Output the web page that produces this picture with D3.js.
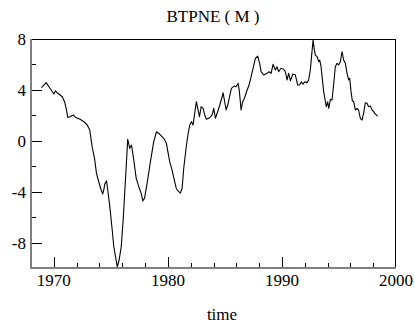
<!DOCTYPE html>
<html>
<head>
<meta charset="utf-8">
<script src="https://cdn.jsdelivr.net/npm/d3@7"></script>
<style>
  html, body { margin: 0; padding: 0; background: #fff; }
  svg { display: block; }
</style>
</head>
<body>
<svg id="chart" width="415" height="326"></svg>
<script>
// ---- data ----
const title = "BTPNE ( M )";
const xLabel = "time";
const xTickValues = [1970, 1980, 1990, 2000];
const xMinorTicks = [1972, 1974, 1976, 1978, 1982, 1984, 1986, 1988, 1992, 1994, 1996, 1998];
const yTickValues = [-8, -4, 0, 4, 8];
const yMinorTicks = [-6, -2, 2, 6];

const times = [
  1968.92, 1969.33, 1969.71, 1970.00, 1970.15, 1970.30, 1970.44, 1970.74, 1970.94, 1971.11,
  1971.23, 1971.46, 1971.70, 1971.86, 1971.99, 1972.34, 1972.63, 1972.93, 1973.15, 1973.36,
  1973.57, 1973.74, 1973.94, 1974.15, 1974.29, 1974.38, 1974.47, 1974.62, 1974.73, 1974.91,
  1975.12, 1975.26, 1975.41, 1975.56, 1975.73, 1975.91, 1976.08, 1976.28, 1976.48, 1976.66,
  1976.81, 1977.01, 1977.22, 1977.45, 1977.66, 1977.80, 1977.95, 1978.18, 1978.47, 1978.76,
  1979.00, 1979.29, 1979.64, 1979.87, 1980.16, 1980.37, 1980.58, 1980.75, 1980.95, 1981.10,
  1981.25, 1981.39, 1981.63, 1981.78, 1981.92, 1982.07, 1982.21, 1982.35, 1982.50, 1982.62,
  1982.77, 1982.92, 1983.09, 1983.23, 1983.38, 1983.67, 1983.88, 1984.02, 1984.17, 1984.32,
  1984.55, 1984.76, 1984.84, 1984.98, 1985.11, 1985.25, 1985.40, 1985.57, 1985.83, 1985.98,
  1986.16, 1986.27, 1986.42, 1986.56, 1986.71, 1986.95, 1987.12, 1987.30, 1987.47, 1987.67,
  1987.87, 1988.05, 1988.17, 1988.40, 1988.70, 1988.87, 1989.05, 1989.22, 1989.43, 1989.57,
  1989.71, 1989.92, 1990.15, 1990.30, 1990.45, 1990.59, 1990.74, 1990.96, 1991.18, 1991.38,
  1991.55, 1991.70, 1991.85, 1991.99, 1992.20, 1992.34, 1992.49, 1992.58, 1992.73, 1992.84,
  1992.93, 1993.08, 1993.22, 1993.31, 1993.43, 1993.52, 1993.66, 1993.81, 1993.89, 1994.01,
  1994.10, 1994.25, 1994.39, 1994.53, 1994.68, 1994.83, 1994.97, 1995.12, 1995.27, 1995.41,
  1995.56, 1995.71, 1995.85, 1995.94, 1996.06, 1996.17, 1996.29, 1996.44, 1996.58, 1996.72,
  1996.87, 1997.02, 1997.16, 1997.31, 1997.46, 1997.60, 1997.75, 1997.90, 1998.04, 1998.19,
  1998.39
];
const values = [
  4.17, 4.57, 4.07, 3.68, 3.93, 3.76, 3.68, 3.46, 3.07, 2.42,
  1.83, 1.91, 2.03, 1.87, 1.81, 1.67, 1.50, 1.24, 0.85, -0.47,
  -1.38, -2.56, -3.22, -3.87, -4.18, -3.87, -3.40, -3.14, -3.87, -5.18,
  -7.01, -8.33, -9.11, -9.90, -9.37, -8.33, -6.23, -3.08, 0.12, -0.59,
  -0.33, -1.51, -2.93, -3.61, -4.13, -4.73, -4.52, -3.34, -1.64, -0.07,
  0.71, 0.51, 0.19, -0.20, -1.64, -2.30, -3.16, -3.79, -4.00, -4.11,
  -3.71, -2.16, -0.33, 0.59, 1.24, 1.50, 1.24, 2.16, 3.07, 2.55,
  1.89, 2.68, 2.55, 2.03, 1.69, 1.81, 2.03, 2.55, 1.77, 2.16,
  2.81, 3.46, 3.78, 3.07, 2.42, 2.81, 3.46, 4.12, 4.31, 4.25,
  4.52, 3.86, 2.42, 3.07, 3.34, 3.99, 4.38, 5.04, 5.70, 6.48,
  6.66, 6.09, 5.43, 5.17, 5.30, 5.43, 5.30, 6.01, 5.56, 5.82,
  5.43, 5.70, 5.62, 5.43, 4.78, 5.30, 4.72, 5.25, 5.17, 4.38,
  4.38, 4.64, 4.44, 4.64, 4.57, 4.78, 5.56, 6.48, 7.92, 7.14,
  6.74, 6.61, 6.22, 6.35, 5.82, 5.04, 3.86, 3.07, 2.68, 3.07,
  2.55, 3.26, 3.21, 4.38, 5.82, 6.09, 5.96, 6.22, 7.00, 6.35,
  6.09, 5.30, 4.78, 4.91, 3.86, 3.15, 3.07, 2.42, 2.55, 2.42,
  1.77, 1.63, 2.16, 2.99, 2.95, 2.68, 2.73, 2.42, 2.29, 2.10,
  1.95
];

// ---- layout ----
const FONT = "'Liberation Serif', 'DejaVu Serif', serif";
const mLeft = 31, mRight = 396, mTop = 39, mBottom = 268;
const svg = d3.select("#chart");

const x = d3.scaleLinear().domain([1968, 2000]).range([mLeft, mRight]);
const y = d3.scaleLinear().domain([-10, 8]).range([mBottom, mTop]);

// frame: top and right thin black
svg.append("line").attr("x1", mLeft).attr("x2", mRight).attr("y1", mTop + 0.5).attr("y2", mTop + 0.5)
  .attr("stroke", "#000").attr("stroke-width", 1);
svg.append("line").attr("x1", mRight - 0.5).attr("x2", mRight - 0.5).attr("y1", mTop).attr("y2", mBottom)
  .attr("stroke", "#000").attr("stroke-width", 1);

// x ticks (inside, upward)
const gx = svg.append("g");
gx.selectAll("line.maj").data(xTickValues.filter(d => d < 2000)).enter().append("line")
  .attr("x1", d => Math.round(x(d)) + 0.5).attr("x2", d => Math.round(x(d)) + 0.5)
  .attr("y1", mBottom).attr("y2", mBottom - 11).attr("stroke", "#000").attr("stroke-width", 1);
gx.selectAll("line.min").data(xMinorTicks).enter().append("line")
  .attr("x1", d => Math.round(x(d)) + 0.5).attr("x2", d => Math.round(x(d)) + 0.5)
  .attr("y1", mBottom).attr("y2", mBottom - 5).attr("stroke", "#000").attr("stroke-width", 1);
gx.selectAll("text").data(xTickValues).enter().append("text")
  .attr("x", d => x(d)).attr("y", 286).attr("text-anchor", "middle")
  .attr("font-family", FONT).attr("font-size", 17).attr("fill", "#000").text(d => d);

// y ticks (inside, rightward)
const gy = svg.append("g");
gy.selectAll("line.maj").data(yTickValues.filter(d => d < 8)).enter().append("line")
  .attr("x1", mLeft).attr("x2", mLeft + 11)
  .attr("y1", d => Math.round(y(d)) + 0.5).attr("y2", d => Math.round(y(d)) + 0.5)
  .attr("stroke", "#000").attr("stroke-width", 1);
gy.selectAll("line.min").data(yMinorTicks).enter().append("line")
  .attr("x1", mLeft).attr("x2", mLeft + 5)
  .attr("y1", d => Math.round(y(d)) + 0.5).attr("y2", d => Math.round(y(d)) + 0.5)
  .attr("stroke", "#000").attr("stroke-width", 1);
gy.selectAll("text").data(yTickValues).enter().append("text")
  .attr("x", 26).attr("y", d => y(d) + 6).attr("text-anchor", "end")
  .attr("font-family", FONT).attr("font-size", 17).attr("fill", "#000").text(d => d);

// axis lines: left and bottom gray
svg.append("line").attr("x1", mLeft).attr("x2", mLeft).attr("y1", mTop).attr("y2", mBottom + 1)
  .attr("stroke", "#808080").attr("stroke-width", 2);
svg.append("line").attr("x1", mLeft).attr("x2", mRight).attr("y1", mBottom).attr("y2", mBottom)
  .attr("stroke", "#808080").attr("stroke-width", 2);

// series line
const line = d3.line().x((d, i) => x(times[i])).y(d => y(d));
svg.append("path").datum(values).attr("d", line)
  .attr("fill", "none").attr("stroke", "#000").attr("stroke-width", 1.1)
  .attr("stroke-linejoin", "round");

// titles
svg.append("text").attr("x", 213).attr("y", 22).attr("text-anchor", "middle")
  .attr("font-family", FONT).attr("font-size", 17).attr("fill", "#000").text(title);
svg.append("text").attr("x", 222).attr("y", 320).attr("text-anchor", "middle")
  .attr("font-family", FONT).attr("font-size", 17).attr("fill", "#000").text(xLabel);
</script>
</body>
</html>
